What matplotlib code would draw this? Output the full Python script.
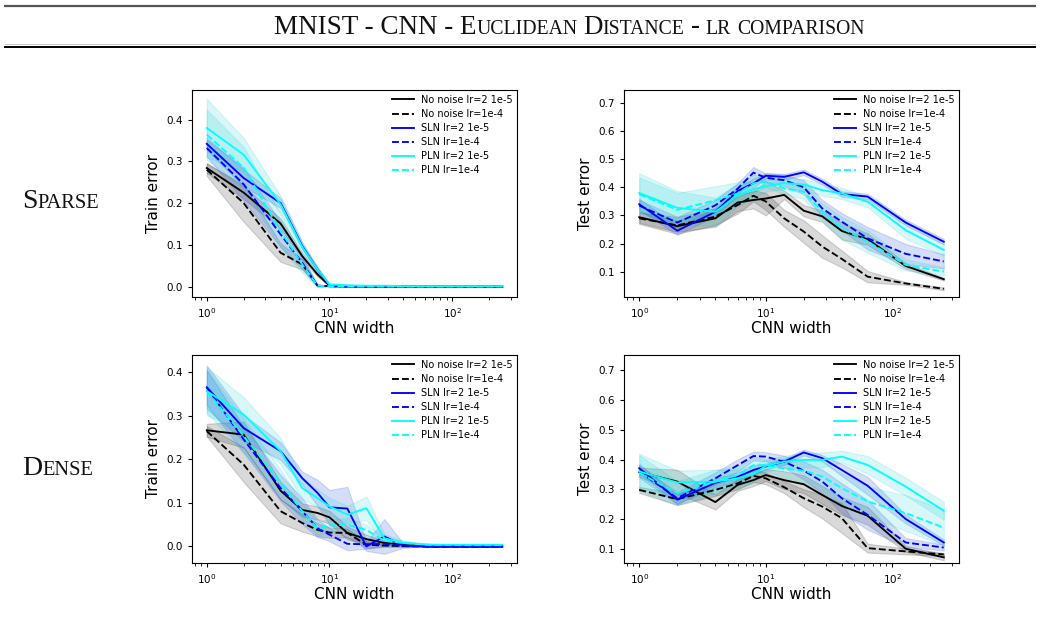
import matplotlib
matplotlib.use("Agg")
import matplotlib.pyplot as plt
import numpy as np

# CNN widths evaluated
widths = [1, 2, 4, 6, 8, 10, 14, 20, 28, 40, 64, 128, 256]

series_labels = ["No noise lr=2 1e-5", "No noise lr=1e-4", "SLN lr=2 1e-5",
                 "SLN lr=1e-4", "PLN lr=2 1e-5", "PLN lr=1e-4"]
series_colors = ["black", "black", "blue", "blue", "cyan", "cyan"]
band_colors = ["black", "black", "royalblue", "royalblue", "darkturquoise", "darkturquoise"]
band_alphas = [0.15, 0.15, 0.22, 0.22, 0.15, 0.15]
series_styles = ["-", "--", "-", "--", "-", "--"]

# ---- Sparse, train error ----
sparse_train_mean = [
    [0.284, 0.225, 0.151, 0.073, 0.029, 0.002, 0.001, 0, 0, 0, 0, 0, 0],
    [0.280, 0.200, 0.081, 0.053, 0.002, 0.001, 0, 0, 0, 0, 0, 0, 0],
    [0.342, 0.260, 0.200, 0.097, 0.041, 0.003, 0.001, 0, 0, 0, 0, 0, 0],
    [0.332, 0.245, 0.125, 0.057, 0.002, 0.001, 0, 0, 0, 0, 0, 0, 0],
    [0.380, 0.316, 0.197, 0.095, 0.041, 0.005, 0.003, 0.002, 0.002, 0.001, 0.001, 0.001, 0.001],
    [0.364, 0.285, 0.133, 0.053, 0.002, 0.001, 0, 0, 0, 0, 0, 0, 0],
]
sparse_train_spread = [
    [0.012, 0.015, 0.012, 0.008, 0.005, 0.001, 0, 0, 0, 0, 0, 0, 0],
    [0.015, 0.045, 0.022, 0.012, 0.002, 0, 0, 0, 0, 0, 0, 0, 0],
    [0.015, 0.020, 0.012, 0.008, 0.005, 0.002, 0, 0, 0, 0, 0, 0, 0],
    [0.020, 0.040, 0.030, 0.015, 0.002, 0, 0, 0, 0, 0, 0, 0, 0],
    [0.070, 0.040, 0.020, 0.012, 0.006, 0.003, 0.001, 0.001, 0.001, 0, 0, 0, 0],
    [0.060, 0.050, 0.040, 0.020, 0.003, 0.001, 0, 0, 0, 0, 0, 0, 0],
]

# ---- Sparse, test error ----
sparse_test_mean = [
    [0.294, 0.262, 0.290, 0.346, 0.355, 0.360, 0.373, 0.317, 0.297, 0.245, 0.216, 0.121, 0.074],
    [0.290, 0.265, 0.296, 0.337, 0.370, 0.350, 0.290, 0.243, 0.190, 0.146, 0.083, 0.059, 0.040],
    [0.340, 0.246, 0.313, 0.387, 0.414, 0.441, 0.437, 0.453, 0.420, 0.376, 0.367, 0.275, 0.207],
    [0.335, 0.275, 0.336, 0.395, 0.452, 0.434, 0.425, 0.400, 0.325, 0.278, 0.219, 0.164, 0.137],
    [0.380, 0.327, 0.313, 0.372, 0.393, 0.404, 0.415, 0.410, 0.390, 0.378, 0.349, 0.248, 0.178],
    [0.375, 0.320, 0.354, 0.378, 0.414, 0.420, 0.396, 0.384, 0.313, 0.255, 0.208, 0.125, 0.101],
]
sparse_test_spread = [
    [0.020, 0.020, 0.030, 0.030, 0.030, 0.060, 0.015, 0.020, 0.020, 0.030, 0.020, 0.010, 0.005],
    [0.020, 0.030, 0.030, 0.030, 0.020, 0.030, 0.030, 0.040, 0.040, 0.030, 0.020, 0.005, 0.005],
    [0.020, 0.015, 0.015, 0.015, 0.015, 0.010, 0.010, 0.010, 0.010, 0.010, 0.010, 0.010, 0.010],
    [0.020, 0.020, 0.020, 0.020, 0.020, 0.015, 0.020, 0.025, 0.030, 0.030, 0.040, 0.035, 0.025],
    [0.070, 0.060, 0.050, 0.040, 0.030, 0.020, 0.020, 0.020, 0.020, 0.020, 0.020, 0.030, 0.020],
    [0.060, 0.060, 0.050, 0.040, 0.030, 0.020, 0.020, 0.025, 0.030, 0.040, 0.040, 0.020, 0.015],
]

# ---- Dense, train error ----
dense_train_mean = [
    [0.267, 0.257, 0.128, 0.084, 0.077, 0.067, 0.031, 0.017, 0.008, 0.005, 0, 0, 0],
    [0.265, 0.188, 0.081, 0.054, 0.038, 0.032, 0.031, 0.004, 0.002, 0.001, 0, 0, 0],
    [0.366, 0.272, 0.219, 0.157, 0.123, 0.090, 0.087, 0.000, 0.023, 0.002, 0, 0, 0],
    [0.365, 0.246, 0.134, 0.081, 0.042, 0.027, 0.006, 0.005, 0.006, 0.001, 0, 0, 0],
    [0.357, 0.303, 0.219, 0.134, 0.111, 0.092, 0.073, 0.088, 0.019, 0.008, 0.004, 0.004, 0.004],
    [0.357, 0.254, 0.146, 0.081, 0.041, 0.048, 0.050, 0.038, 0.013, 0.008, 0.004, 0.003, 0.003],
]
dense_train_spread = [
    [0.015, 0.030, 0.020, 0.015, 0.015, 0.015, 0.015, 0.010, 0.005, 0.003, 0, 0, 0],
    [0.012, 0.040, 0.028, 0.020, 0.015, 0.012, 0.010, 0.008, 0.003, 0.002, 0, 0, 0],
    [0.050, 0.030, 0.020, 0.015, 0.030, 0.040, 0.050, 0.010, 0.040, 0.005, 0, 0, 0],
    [0.040, 0.030, 0.030, 0.030, 0.020, 0.015, 0.015, 0.010, 0.005, 0.002, 0, 0, 0],
    [0.055, 0.040, 0.030, 0.025, 0.020, 0.020, 0.020, 0.027, 0.010, 0.005, 0.002, 0.001, 0.001],
    [0.050, 0.040, 0.030, 0.020, 0.015, 0.015, 0.015, 0.012, 0.008, 0.005, 0.002, 0.001, 0.001],
]

# ---- Dense, test error ----
dense_test_mean = [
    [0.358, 0.326, 0.257, 0.315, 0.331, 0.348, 0.331, 0.317, 0.281, 0.244, 0.211, 0.100, 0.071],
    [0.298, 0.267, 0.298, 0.320, 0.345, 0.337, 0.307, 0.270, 0.242, 0.203, 0.102, 0.091, 0.081],
    [0.371, 0.265, 0.322, 0.342, 0.365, 0.377, 0.393, 0.424, 0.405, 0.365, 0.312, 0.200, 0.121],
    [0.360, 0.270, 0.337, 0.381, 0.412, 0.410, 0.393, 0.363, 0.326, 0.270, 0.214, 0.121, 0.104],
    [0.360, 0.323, 0.326, 0.337, 0.352, 0.379, 0.393, 0.399, 0.399, 0.410, 0.382, 0.309, 0.228],
    [0.355, 0.287, 0.326, 0.348, 0.381, 0.381, 0.370, 0.363, 0.343, 0.304, 0.259, 0.220, 0.171],
]
dense_test_spread = [
    [0.015, 0.040, 0.025, 0.020, 0.020, 0.020, 0.030, 0.030, 0.030, 0.030, 0.030, 0.010, 0.010],
    [0.010, 0.020, 0.020, 0.020, 0.020, 0.020, 0.020, 0.030, 0.040, 0.050, 0.015, 0.010, 0.005],
    [0.015, 0.015, 0.015, 0.015, 0.015, 0.010, 0.010, 0.010, 0.010, 0.020, 0.030, 0.015, 0.010],
    [0.020, 0.020, 0.020, 0.020, 0.015, 0.015, 0.020, 0.030, 0.040, 0.050, 0.050, 0.015, 0.010],
    [0.060, 0.040, 0.040, 0.030, 0.030, 0.020, 0.020, 0.025, 0.025, 0.020, 0.030, 0.030, 0.030],
    [0.060, 0.040, 0.040, 0.030, 0.030, 0.020, 0.030, 0.040, 0.050, 0.050, 0.050, 0.060, 0.060],
]

panels = [
    # (mean, spread, ylabel, ylim, yticks, axes rect in pixels: left, top, right, bottom)
    (sparse_train_mean, sparse_train_spread, "Train error", (-0.025, 0.471),
     [0.0, 0.1, 0.2, 0.3, 0.4], (192, 90, 517, 297)),
    (sparse_test_mean, sparse_test_spread, "Test error", (0.011, 0.745),
     [0.1, 0.2, 0.3, 0.4, 0.5, 0.6, 0.7], (624, 90, 959, 297)),
    (dense_train_mean, dense_train_spread, "Train error", (-0.038, 0.440),
     [0.0, 0.1, 0.2, 0.3, 0.4], (192, 355, 517, 563)),
    (dense_test_mean, dense_test_spread, "Test error", (0.052, 0.752),
     [0.1, 0.2, 0.3, 0.4, 0.5, 0.6, 0.7], (624, 355, 959, 563)),
]

W, H = 1040, 618
fig = plt.figure(figsize=(W / 100, H / 100), dpi=100)

x = np.array(widths, dtype=float)
for mean, spread, ylabel, ylim, yticks, (l, t, r, b) in panels:
    ax = fig.add_axes([l / W, 1 - b / H, (r - l) / W, (b - t) / H])
    for k in range(6):
        m = np.array(mean[k])
        s = np.array(spread[k])
        ax.fill_between(x, m - s, m + s, color=band_colors[k], alpha=band_alphas[k],
                        linewidth=0.8)
    for k in range(6):
        ax.plot(x, mean[k], color=series_colors[k], linestyle=series_styles[k],
                linewidth=1.35, label=series_labels[k])
    ax.set_xscale("log")
    ax.set_ylim(*ylim)
    ax.set_yticks(yticks)
    ax.tick_params(labelsize=7.5, length=3, width=0.8)
    ax.tick_params(which="minor", length=1.8, width=0.6)
    ax.set_xlabel("CNN width", fontsize=11, labelpad=1)
    ax.set_ylabel(ylabel, fontsize=11, labelpad=4)
    ax.legend(loc="upper right", fontsize=7, frameon=False, handlelength=2.2,
              handletextpad=0.7, labelspacing=0.42, borderaxespad=0.1)

serif = "Liberation Serif"


def small_caps(x_px, baseline_px, pieces, big=18, small=13, center=False):
    """Draw text in small capitals made of big and small upper-case runs."""
    renderer = fig.canvas.get_renderer()
    items = []
    for text, is_big, gap in pieces:
        t = fig.text(0, 1 - baseline_px / H, text, fontsize=big if is_big else small,
                     family=serif, va="baseline", ha="left", color="#111111")
        items.append((t, gap))
    extents = [t.get_window_extent(renderer).width for t, _ in items]
    total = sum(extents) + sum(g for _, g in items)
    pos = x_px - total / 2 if center else x_px
    for (t, gap), w in zip(items, extents):
        pos += gap
        t.set_x(pos / W)
        pos += w


# header rules and title
fig.add_artist(plt.Line2D([5 / W, 1035 / W], [1 - 5.5 / H, 1 - 5.5 / H], color="#555555", linewidth=1.6))
fig.add_artist(plt.Line2D([5 / W, 1035 / W], [1 - 44 / H, 1 - 44 / H], color="#bbbbbb", linewidth=0.6))
fig.add_artist(plt.Line2D([5 / W, 1035 / W], [1 - 46.5 / H, 1 - 46.5 / H], color="black", linewidth=1.4))

sp = 6
small_caps(569, 33.5, [("MNIST - CNN - E", True, 0), ("UCLIDEAN", False, 0),
                       ("D", True, sp), ("ISTANCE", False, 0), ("-", True, sp),
                       ("LR", False, sp), ("COMPARISON", False, sp)],
           big=19.5, small=14.2, center=True)

# row labels
small_caps(22, 208, [("S", True, 0), ("PARSE", False, 0)], big=20, small=14.8)
small_caps(22, 475, [("D", True, 0), ("ENSE", False, 0)], big=20, small=14.8)

fig.savefig("out.png", dpi=100)
